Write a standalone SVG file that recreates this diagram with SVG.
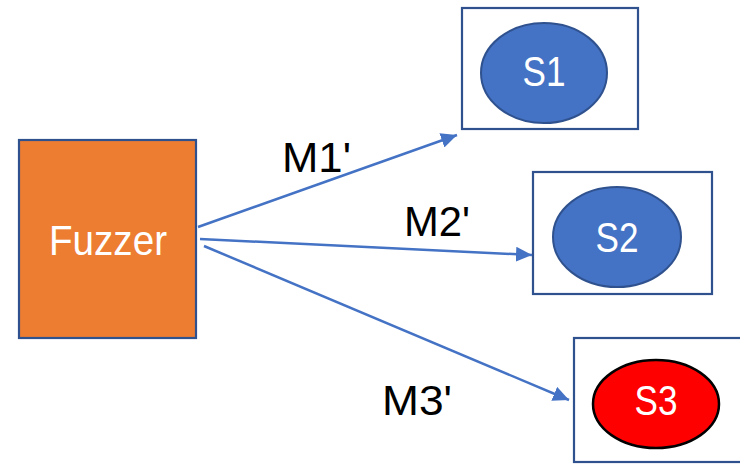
<svg xmlns="http://www.w3.org/2000/svg" width="740" height="464" viewBox="0 0 740 464">
  <style>
    .frame { fill: #ffffff; stroke: #2F528F; stroke-width: 2.2; }
    .svc { fill: #4472C4; stroke: #2F528F; stroke-width: 2; }
    .bad { fill: #FF0000; stroke: #000000; stroke-width: 2.5; }
    .wlabel { font-family: "Liberation Sans", Arial, sans-serif; fill: #ffffff; text-anchor: middle; }
    .mlabel { font-family: "Liberation Sans", Arial, sans-serif; fill: #000000; font-size: 42px; }
    .edge { stroke: #4472C4; stroke-width: 2.5; fill: none; marker-end: url(#head); }
  </style>
  <defs>
    <marker id="head" markerUnits="userSpaceOnUse" markerWidth="17" markerHeight="15" refX="16" refY="7.5" orient="auto">
      <path d="M0,0 L16,7.5 L0,15 Z" fill="#4472C4"/>
    </marker>
  </defs>
  <rect width="740" height="464" fill="#ffffff"/>

  <!-- fuzzer source node -->
  <g id="fuzzer">
    <rect x="19" y="140" width="177" height="198" fill="#ED7D31" stroke="#2F528F" stroke-width="2.2"/>
    <text class="wlabel" x="108" y="255" font-size="42" textLength="118" lengthAdjust="spacingAndGlyphs">Fuzzer</text>
  </g>

  <!-- target services -->
  <g id="s1">
    <rect class="frame" x="462" y="8" width="176" height="121"/>
    <ellipse class="svc" cx="544" cy="73" rx="63" ry="50"/>
    <text class="wlabel" x="544" y="86" font-size="43" textLength="43" lengthAdjust="spacingAndGlyphs">S1</text>
  </g>
  <g id="s2">
    <rect class="frame" x="533" y="172" width="179" height="122"/>
    <ellipse class="svc" cx="617" cy="237" rx="64" ry="50"/>
    <text class="wlabel" x="617" y="252" font-size="43" textLength="43" lengthAdjust="spacingAndGlyphs">S2</text>
  </g>
  <g id="s3">
    <rect class="frame" x="574" y="338" width="176" height="124"/>
    <ellipse class="bad" cx="656" cy="404" rx="63" ry="44"/>
    <text class="wlabel" x="656" y="415" font-size="43" textLength="43" lengthAdjust="spacingAndGlyphs">S3</text>
  </g>

  <!-- mutated messages sent to each service -->
  <g id="connectors">
    <line class="edge" x1="198" y1="227" x2="457" y2="135"/>
    <line class="edge" x1="200" y1="239" x2="532" y2="255"/>
    <line class="edge" x1="204" y1="246" x2="569" y2="400"/>
    <text class="mlabel" x="282" y="172" textLength="69" lengthAdjust="spacingAndGlyphs">M1'</text>
    <text class="mlabel" x="404" y="236" textLength="66" lengthAdjust="spacingAndGlyphs">M2'</text>
    <text class="mlabel" x="382" y="415" textLength="70" lengthAdjust="spacingAndGlyphs">M3'</text>
  </g>
</svg>
